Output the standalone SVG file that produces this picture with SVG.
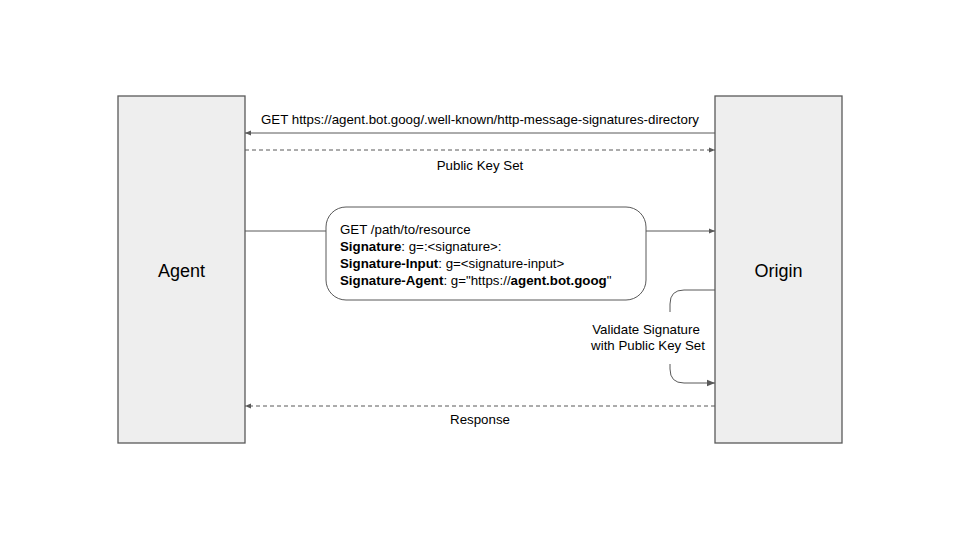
<svg xmlns="http://www.w3.org/2000/svg" width="960" height="540" viewBox="0 0 960 540">
<style>
text{font-family:"Liberation Sans",Arial,sans-serif;fill:#000;}
.lbl{font-size:13.3px;}
.node{fill:#eeeeee;stroke:#595959;stroke-width:1.3;}
.ln{fill:none;stroke:#595959;stroke-width:1;}
.dash{stroke-dasharray:4,3;}
.b{font-weight:bold;}
</style>
<defs>
<marker id="ah" viewBox="0 0 10 10" refX="10" refY="5" markerWidth="8" markerHeight="6" orient="auto" markerUnits="userSpaceOnUse">
<path d="M0,1 L10,5 L0,9 Z" fill="#595959"/>
</marker>
<marker id="ahL" viewBox="0 0 10 10" refX="10" refY="5" markerWidth="11" markerHeight="8" orient="auto" markerUnits="userSpaceOnUse">
<path d="M0,1 L10,5 L0,9 Z" fill="#595959"/>
</marker>
</defs>
<rect width="960" height="540" fill="#ffffff"/>
<g id="agent">
<rect class="node" x="118" y="96" width="127" height="347"/>
<text x="181.5" y="277" font-size="18" text-anchor="middle">Agent</text>
</g>
<g id="origin">
<rect class="node" x="715" y="96" width="127" height="347"/>
<text x="778.5" y="277" font-size="18" text-anchor="middle">Origin</text>
</g>
<g id="request">
<rect x="326" y="207" width="320" height="93" rx="20" ry="20" fill="#ffffff" stroke="#595959" stroke-width="1"/>
<text class="lbl" x="340" y="234">GET /path/to/resource</text>
<text class="lbl" x="340" y="251"><tspan class="b">Signature</tspan>: g=:&lt;signature&gt;:</text>
<text class="lbl" x="340" y="268"><tspan class="b">Signature-Input</tspan>: g=&lt;signature-input&gt;</text>
<text class="lbl" x="340" y="285"><tspan class="b">Signature-Agent</tspan>: g="https://<tspan class="b">agent.bot.goog</tspan>"</text>
</g>
<g id="connectors">
<line class="ln" x1="715" y1="133" x2="245" y2="133" marker-end="url(#ah)"/>
<text class="lbl" x="480" y="124" text-anchor="middle">GET https://agent.bot.goog/.well-known/http-message-signatures-directory</text>
<line class="ln dash" x1="245" y1="150" x2="715" y2="150" marker-end="url(#ah)"/>
<text class="lbl" x="480" y="170" text-anchor="middle">Public Key Set</text>
<line class="ln" x1="245" y1="231" x2="326" y2="231"/>
<line class="ln" x1="646" y1="231" x2="715" y2="231" marker-end="url(#ah)"/>
<path class="ln" d="M715,290 L684,290 Q670,290 670,304 L670,312"/>
<path class="ln" d="M670,364 L670,369 Q670,383 684,383 L715,383" marker-end="url(#ahL)"/>
<text class="lbl" x="646" y="334" text-anchor="middle">Validate Signature</text>
<text class="lbl" x="648" y="350" text-anchor="middle">with Public Key Set</text>
<line class="ln dash" x1="715" y1="406" x2="245" y2="406" marker-end="url(#ah)"/>
<text class="lbl" x="480" y="424" text-anchor="middle">Response</text>
</g>
</svg>
